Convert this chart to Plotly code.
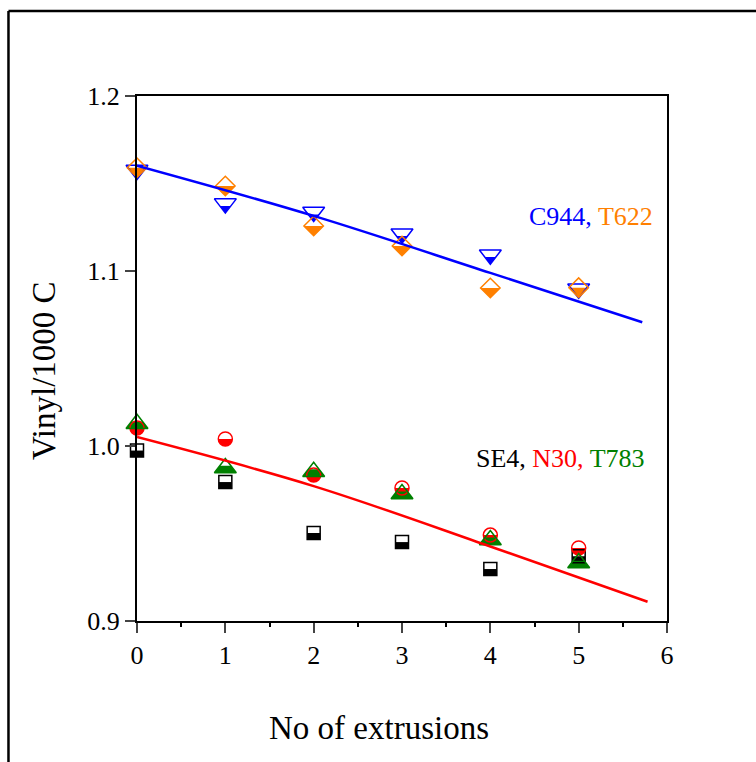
import math
import plotly.graph_objects as go

# ---------------- data ----------------
extrusions = [0, 1, 2, 3, 4, 5]
se4 = [0.9974, 0.9794, 0.9503, 0.9451, 0.9297, 0.9370]
n30 = [1.0103, 1.0040, 0.9834, 0.9760, 0.9491, 0.9417]
t783 = [1.0127, 0.9874, 0.9853, 0.9726, 0.9463, 0.9331]
c944 = [1.1577, 1.1385, 1.1337, 1.1213, 1.1093, 1.0899]
t622 = [1.1590, 1.1486, 1.1257, 1.1143, 1.0903, 1.0905]

fit_upper_x = [0, 2.0, 4.0, 5.72]
fit_upper_y = [1.1602, 1.1315, 1.0989, 1.0707]
fit_lower_x = [0, 2.0, 4.0, 5.78]
fit_lower_y = [1.0051, 0.9771, 0.9426, 0.9110]

x_ticks = [0, 1, 2, 3, 4, 5, 6]
y_ticks = [0.9, 1.0, 1.1, 1.2]
y_ticktext = ["0.9", "1.0", "1.1", "1.2"]
X_RANGE = [0, 6]
Y_RANGE = [0.9, 1.2]

BLACK = "#000000"
RED = "#FF0000"
GREEN = "#008000"
BLUE = "#0000FF"
ORANGE = "#FF8000"
FONT = "Liberation Serif, Times New Roman, serif"

series = [
    ("SE4", se4, BLACK, "square", 13),
    ("N30", n30, RED, "circle", 14),
    ("T783", t783, GREEN, "triangle-up", 19),
    ("C944", c944, BLUE, "triangle-down", 19),
    ("T622", t622, ORANGE, "diamond", 15),
]


def half_path(symbol, size):
    """Bottom-half fill of a plotly marker, in pixel offsets (y up)."""
    r = size / 2.0
    if symbol == "square":
        pts = [(-r, 0), (r, 0), (r, -r), (-r, -r)]
    elif symbol == "circle":
        pts = [(r * math.cos(math.pi + math.pi * k / 24), r * math.sin(math.pi + math.pi * k / 24)) for k in range(25)]
    elif symbol == "diamond":
        rd = 1.3 * r
        pts = [(-rd, 0), (rd, 0), (0, -rd)]
    elif symbol == "triangle-up":
        rt = 2 * r / math.sqrt(3)
        pts = [(-rt / 2, r / 4), (rt / 2, r / 4), (rt, -r / 2), (-rt, -r / 2)]
    else:  # triangle-down
        rt = 2 * r / math.sqrt(3)
        pts = [(-rt / 2, -r / 4), (rt / 2, -r / 4), (0, -r)]
    return "M " + " L ".join(f"{px:.2f},{py:.2f}" for px, py in pts) + " Z"


fig = go.Figure()
shapes = []

for name, vals, col, sym, size in series:
    fig.add_trace(go.Scatter(
        x=extrusions, y=vals, mode="markers", name=name, cliponaxis=False,
        marker=dict(symbol=sym + "-open", size=size, color=col, line=dict(width=1.5, color=col)),
    ))
    p = half_path(sym, size)
    for xv, yv in zip(extrusions, vals):
        shapes.append(dict(
            type="path", path=p, xref="x domain", yref="y",
            xsizemode="pixel", ysizemode="pixel",
            xanchor=(xv - X_RANGE[0]) / (X_RANGE[1] - X_RANGE[0]), yanchor=yv,
            fillcolor=col, line=dict(width=0), layer="below",
        ))

fig.add_trace(go.Scatter(x=fit_upper_x, y=fit_upper_y, mode="lines", cliponaxis=False,
                         line=dict(color=BLUE, width=2.5, shape="spline", smoothing=1.0), name="fit C944/T622"))
fig.add_trace(go.Scatter(x=fit_lower_x, y=fit_lower_y, mode="lines", cliponaxis=False,
                         line=dict(color=RED, width=2.5, shape="spline", smoothing=1.0), name="fit SE4/N30/T783"))

# outer frame (top and left edges visible)
shapes.append(dict(type="line", xref="paper", yref="paper", x0=-0.2425, x1=-0.2425, y0=-0.5, y1=1.1619,
                   line=dict(color="black", width=2.5)))
shapes.append(dict(type="line", xref="paper", yref="paper", x0=-0.2425, x1=1.5, y0=1.1619, y1=1.1619,
                   line=dict(color="black", width=2.5)))

annotations = [
    dict(text="No of extrusions", xref="paper", yref="paper", x=0.4566, y=-0.2038,
         showarrow=False, xanchor="center", yanchor="middle", font=dict(family=FONT, size=33, color="black")),
    dict(text="Vinyl/1000 C", xref="paper", yref="paper", x=-0.1755, y=0.478, textangle=-90,
         showarrow=False, xanchor="center", yanchor="middle", font=dict(family=FONT, size=33, color="black")),
    dict(text=f'<span style="color:{BLUE}">C944,</span> <span style="color:{ORANGE}">T622</span>',
         xref="x", yref="y", x=5.134, y=1.1309, showarrow=False, xanchor="center", yanchor="middle",
         font=dict(family=FONT, size=26)),
    dict(text=f'<span style="color:{BLACK}">SE4,</span> <span style="color:{RED}">N30,</span> '
              f'<span style="color:{GREEN}">T783</span>',
         xref="x", yref="y", x=4.789, y=0.9926, showarrow=False, xanchor="center", yanchor="middle",
         font=dict(family=FONT, size=26)),
]

fig.update_layout(
    width=756, height=762,
    margin=dict(l=137, r=89, t=96, b=141, pad=0),
    paper_bgcolor="white", plot_bgcolor="white",
    showlegend=False,
    shapes=shapes,
    annotations=annotations,
    xaxis=dict(range=X_RANGE, tickvals=x_ticks, ticks="outside", ticklen=10, tickwidth=2,
               showline=True, linecolor="black", linewidth=2, mirror=True,
               showgrid=False, zeroline=False,
               tickfont=dict(family=FONT, size=26, color="black"),
               minor=dict(tick0=0, dtick=0.5, ticks="outside", ticklen=4, tickwidth=1.5, tickcolor="black")),
    yaxis=dict(range=Y_RANGE, tickvals=y_ticks, ticktext=y_ticktext, ticks="outside", ticklen=10, tickwidth=2,
               showline=True, linecolor="black", linewidth=2, mirror=True,
               showgrid=False, zeroline=False,
               tickfont=dict(family=FONT, size=26, color="black")),
)

fig.write_html("out.html")
